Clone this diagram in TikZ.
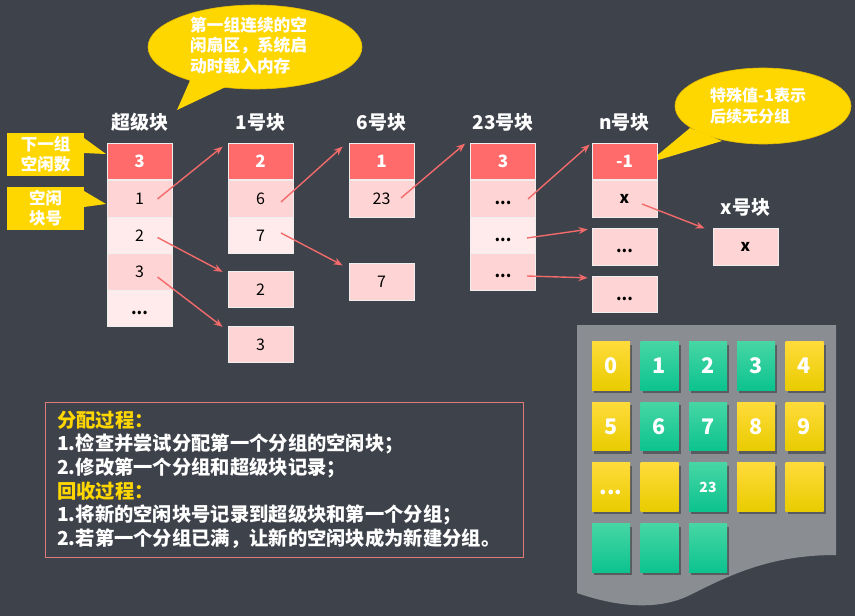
\documentclass[tikz,border=0pt]{standalone}
\usepackage{fontspec}
\setmainfont{Noto Sans CJK SC}
\usetikzlibrary{arrows.meta,shadows}
\definecolor{bg}{HTML}{3E424B}
\definecolor{hdrred}{HTML}{FF6B6B}
\definecolor{pinkd}{HTML}{FFD4D4}
\definecolor{pinkl}{HTML}{FFEBEB}
\definecolor{cellborder}{HTML}{EEEEEE}
\definecolor{arrred}{HTML}{F26A6A}
\definecolor{cyel}{HTML}{FFD700}
\definecolor{cyeldark}{HTML}{E6BE00}
\definecolor{panelgray}{HTML}{8A8D91}
\definecolor{boxborder}{HTML}{E07A7A}
\definecolor{ytop}{HTML}{FFDB3A}
\definecolor{ymid}{HTML}{FFE200}
\definecolor{ybot}{HTML}{E8CC00}
\definecolor{gtop}{HTML}{46D6A4}
\definecolor{gbot}{HTML}{0CC38E}
\newcommand{\dotsx}{\vphantom{1}\textbf{...}}
\begin{document}
\begin{tikzpicture}[x=1pt,y=-1pt,
  cellbase/.style={rectangle, minimum width=65pt, minimum height=36.5pt, inner sep=0pt,
    draw=cellborder, line width=0.8pt},
  hdr/.style={cellbase, minimum height=36pt, fill=hdrred, text=white, font=\fontsize{17}{20}\selectfont\bfseries},
  celld/.style={cellbase, fill=pinkd, text=black, font=\fontsize{16}{19}\selectfont},
  celll/.style={celld, fill=pinkl},
  collab/.style={text=white, font=\fontsize{19}{22}\selectfont\bfseries},
  arr/.style={draw=arrred, line width=1.4pt, -{Stealth[length=9pt,width=7pt]}},
  tile/.style={rectangle, minimum width=38pt, minimum height=48.5pt, inner sep=0pt, text=white,
    font=\fontsize{21.5}{26}\selectfont\bfseries,
    drop shadow={shadow xshift=2pt, shadow yshift=-3pt, opacity=0.35, fill=black}},
  ytile/.style={tile, top color=ytop, middle color=ymid, bottom color=ybot},
  gtile/.style={tile, top color=gtop, bottom color=gbot},
  proc/.style={anchor=west, inner sep=0pt, text=white, font=\fontsize{19.3}{22}\selectfont\bfseries},
  yellab/.style={rectangle, fill=cyel, minimum width=77pt, minimum height=43pt, inner sep=0pt,
    align=center, text=white, font=\fontsize{16.5}{20}\selectfont\bfseries}
]
\fill[bg] (0,0) rectangle (855,616);
\useasboundingbox (0,0) rectangle (855,616);

% ---- callout 1
\fill[cyel, draw=cyeldark, line width=0.6pt] (255,47) ellipse [x radius=107pt, y radius=42pt];
\fill[cyel] (192,76) -- (177,110) -- (232,84) -- cycle;
\node[anchor=west, align=left, inner sep=0pt, text=white, font=\fontsize{16.7}{20.5}\selectfont\bfseries] (c1) at (190,45.5)
  {第一组连续的空\\闲扇区，系统启\\动时载入内存};

% ---- callout 2
\fill[cyel, draw=cyeldark, line width=0.6pt] (763,106) ellipse [x radius=88pt, y radius=38pt];
\fill[cyel] (690,128) -- (648,163) -- (722,141) -- cycle;
\node[anchor=west, align=left, inner sep=0pt, text=white, font=\fontsize{16}{21}\selectfont\bfseries] (c2) at (710,105.5)
  {特殊值-1表示\\后续无分组};

% ---- left labels
\fill[cyel] (84,138) -- (106,154) -- (84,153) -- cycle;
\node[yellab] (l1) at (45.5,154.5) {下一组\\空闲数};
\fill[cyel] (84,191) -- (106,204) -- (84,207) -- cycle;
\node[yellab] (l2) at (45.5,208.5) {空闲\\块号};

% ---- column labels
\node[collab] (ls) at (139.5,122) {超级块};
\node[collab] (l1b) at (260.5,122) {1号块};
\node[collab] (l6b) at (381.5,122) {6号块};
\node[collab] (l23b) at (503,122) {23号块};
\node[collab] (lnb) at (624.5,122) {n号块};
\node[collab] (lxb) at (745.5,207) {x号块};

% ---- super block
\node[hdr] (sh) at (139.5,161) {3};
\node[celld] (s1) at (139.5,199) {1};
\node[celll] (s2) at (139.5,235.5) {2};
\node[celld] (s3) at (139.5,272) {3};
\node[celll] (s4) at (139.5,308.5) {\dotsx};

% ---- block 1
\node[hdr] (b1h) at (260.5,161) {2};
\node[celld] (b1r1) at (260.5,199) {6};
\node[celll] (b1r2) at (260.5,235.5) {7};
\node[celld] (b1a) at (260.5,289.5) {2};
\node[celld] (b1b) at (260.5,344.5) {3};

% ---- block 6
\node[hdr] (b6h) at (381.5,161) {1};
\node[celld] (b6r1) at (381.5,199) {23};
\node[celld] (b6a) at (381.5,282) {7};

% ---- block 23
\node[hdr] (b23h) at (503,161) {3};
\node[celld] (b23r1) at (503,199) {\dotsx};
\node[celll] (b23r2) at (503,235.5) {\dotsx};
\node[celld] (b23r3) at (503,272) {\dotsx};

% ---- block n
\node[hdr] (bnh) at (624.5,161) {-1};
\node[celld] (bnr1) at (624.5,199) {\textbf{x}};
\node[celld] (bna) at (624.5,247) {\dotsx};
\node[celld] (bnb) at (624.5,294.5) {\dotsx};

% ---- block x
\node[celld] (bx) at (745.5,247) {\textbf{x}};

% ---- arrows
\draw[arr] ([xshift=18pt]s1.center) -- ([xshift=-5pt,yshift=-4pt]b1h.north west);
\draw[arr] ([xshift=18pt,yshift=-2pt]s2.center) -- ([xshift=-5pt,yshift=-1pt]b1a.north west);
\draw[arr] ([xshift=18pt,yshift=-5pt]s3.center) -- ([xshift=-5pt,yshift=-1pt]b1b.north west);
\draw[arr] ([xshift=20.5pt,yshift=-3pt]b1r1.center) -- ([xshift=-6pt,yshift=-4pt]b6h.north west);
\draw[arr] ([xshift=20.5pt,yshift=2.5pt]b1r2.center) -- ([xshift=-6pt,yshift=-2pt]b6a.north west);
\draw[arr] ([xshift=19.5pt,yshift=1pt]b6r1.center) -- ([xshift=-5pt,yshift=-1pt]b23h.north west);
\draw[arr] ([xshift=25pt]b23r1.center) -- ([xshift=-2pt,yshift=-2pt]bnh.north west);
\draw[arr] ([xshift=24pt,yshift=-2.5pt]b23r2.center) -- ([xshift=-4pt,yshift=-1pt]bna.north west);
\draw[arr] ([xshift=24pt,yshift=-4pt]b23r3.center) -- ([xshift=-4pt,yshift=-2pt]bnb.north west);
\draw[arr] ([xshift=17.5pt,yshift=-5pt]bnr1.center) -- ([xshift=-8pt]bx.north west);

% ---- process text box
\draw[boxborder, line width=1pt] (45,402) rectangle (523,557);
\node[proc, text=cyel] (p1) at (57,420) {分配过程：};
\node[proc] (p2) at (57,443.5) {1.检查并尝试分配第一个分组的空闲块；};
\node[proc] (p3) at (57,467.5) {2.修改第一个分组和超级块记录；};
\node[proc, text=cyel] (p4) at (57,491.5) {回收过程：};
\node[proc] (p5) at (57,515) {1.将新的空闲块号记录到超级块和第一个分组；};
\node[proc] (p6) at (57,538.5) {2.若第一个分组已满，让新的空闲块成为新建分组。};

% ---- disk panel
\fill[panelgray] (577,325) -- (836,325) -- (836,555)
  .. controls (770,555) and (730,575) .. (690,595)
  .. controls (660,610) and (620,608) .. (577,593) -- cycle;

\node[ytile] (t0) at (611,366) {0};
\node[gtile] (t1) at (659.5,366) {1};
\node[gtile] (t2) at (708,366) {2};
\node[gtile] (t3) at (756,366) {3};
\node[ytile] (t4) at (804.5,366) {4};
\node[ytile] (t5) at (611,426.5) {5};
\node[gtile] (t6) at (659.5,426.5) {6};
\node[gtile] (t7) at (708,426.5) {7};
\node[ytile] (t8) at (756,426.5) {8};
\node[ytile] (t9) at (804.5,426.5) {9};
\node[ytile] (t10) at (611,487) {\vphantom{0}...};
\node[ytile] (t11) at (659.5,487) {};
\node[gtile, font=\fontsize{14}{16}\selectfont\bfseries] (t12) at (708,487) {23};
\node[ytile] (t13) at (756,487) {};
\node[ytile] (t14) at (804.5,487) {};
\node[gtile] (t15) at (611,548) {};
\node[gtile] (t16) at (659.5,548) {};
\node[gtile] (t17) at (708,548) {};
\end{tikzpicture}
\end{document}
